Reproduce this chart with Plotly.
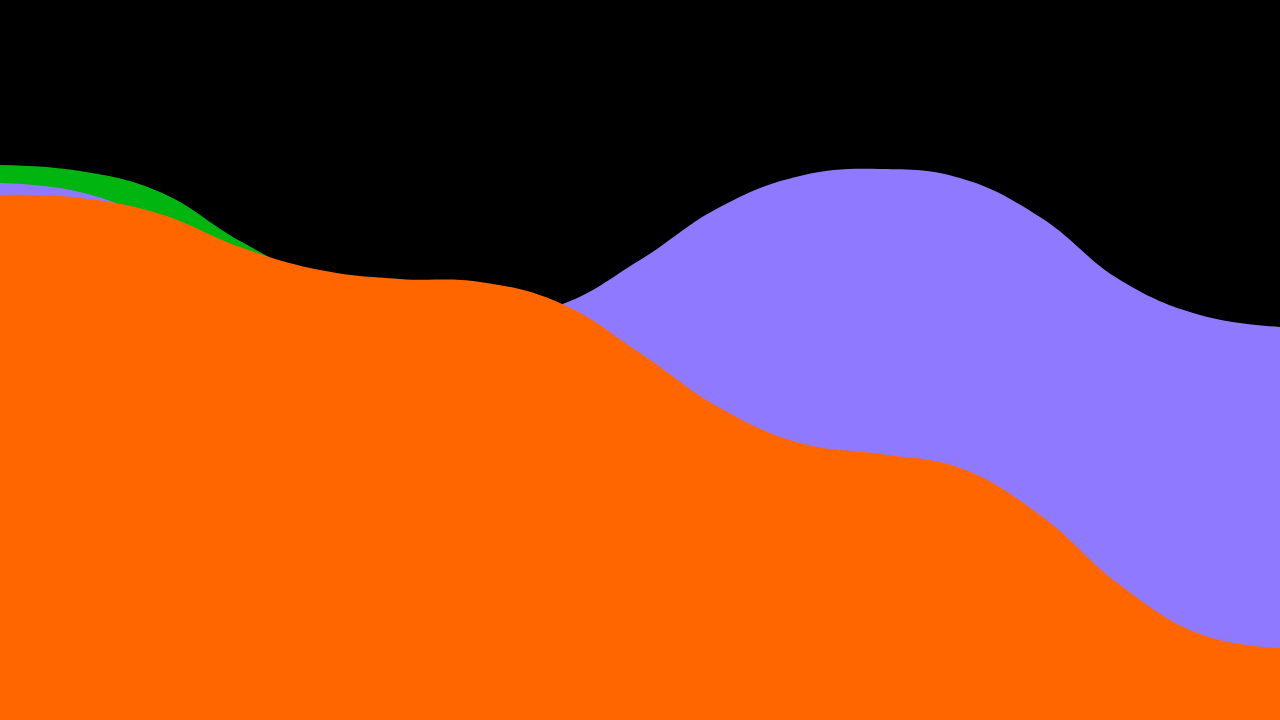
import plotly.graph_objects as go

# sample positions along the x axis
steps = list(range(17))

# values (baseline 0, top 720)
green = [555, 549, 528, 479, 440, 420, 400, 380, 340, 290, 250, 230, 210, 160, 100, 60, 40]
purple = [537, 528, 498, 460, 430, 410, 402, 415, 460, 513, 544, 551, 542, 503, 440, 405, 393]
orange = [525, 522, 506, 473, 450, 441, 438, 417, 367, 312, 277, 266, 252, 205, 135, 86, 72]

series = [
    ("green", green, "#00b50f"),
    ("purple", purple, "#8f7aff"),
    ("orange", orange, "#ff6600"),
]

fig = go.Figure()
for name, vals, col in series:
    fig.add_trace(go.Scatter(
        x=steps, y=vals, name=name, mode="lines",
        line=dict(width=0, shape="spline", smoothing=1.2),
        fill="tozeroy", fillcolor=col, hoverinfo="skip",
    ))

fig.update_layout(
    width=1280, height=720,
    margin=dict(l=0, r=0, t=0, b=0),
    paper_bgcolor="black", plot_bgcolor="black",
    showlegend=False,
    xaxis=dict(range=[0, 16], visible=False, fixedrange=True),
    yaxis=dict(range=[0, 720], visible=False, fixedrange=True),
)

# drop the browser's default body margin so the chart sits at 0,0
fig.write_html("out.html", config={"displayModeBar": False},
               post_script="document.body.style.margin='0';document.body.style.background='black';")
